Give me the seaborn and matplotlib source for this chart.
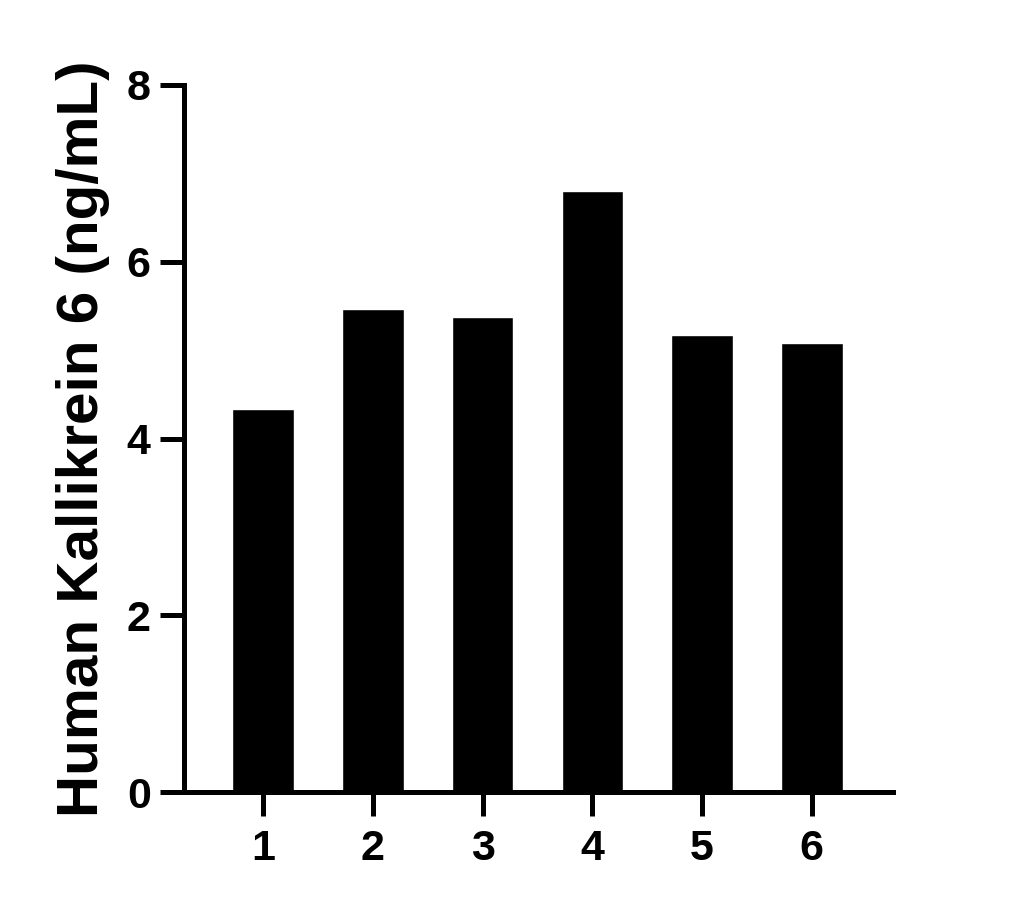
import matplotlib
matplotlib.use("Agg")
import matplotlib.pyplot as plt
import seaborn as sns
import pandas as pd

# values
samples = ["1", "2", "3", "4", "5", "6"]
kallikrein = [4.33, 5.46, 5.37, 6.80, 5.17, 5.08]

df = pd.DataFrame({"sample": samples, "value": kallikrein})

sns.set_style("ticks")
plt.rcParams['font.family'] = ['Liberation Sans', 'DejaVu Sans']
plt.rcParams['font.weight'] = 'bold'
plt.rcParams['text.color'] = 'black'
plt.rcParams['axes.labelcolor'] = 'black'
plt.rcParams['xtick.color'] = 'black'
plt.rcParams['ytick.color'] = 'black'

fig = plt.figure(figsize=(10.26, 9.09), dpi=100)
ax = fig.add_axes([184 / 1026, 1 - 792 / 909, (893 - 184) / 1026, (792 - 85) / 909])

sns.barplot(data=df, x="sample", y="value", color="black", width=0.56,
            saturation=1, ax=ax)

ax.set_ylim(0, 8)
ax.set_xlim(-0.72, 5.74)
ax.set_yticks([0, 2, 4, 6, 8])
ax.set_xlabel("")
ax.set_ylabel("Human Kallikrein 6 (ng/mL)", fontsize=42, fontweight='bold',
              color='black', labelpad=12)

for side in ["top", "right"]:
    ax.spines[side].set_visible(False)
for side in ["left", "bottom"]:
    ax.spines[side].set_linewidth(3.6)
    ax.spines[side].set_color("black")

ax.tick_params(axis="both", which="major", left=True, bottom=True, length=17,
               width=3.6, color="black", labelcolor="black", labelsize=31,
               direction="out")
ax.tick_params(axis="y", pad=7)
ax.tick_params(axis="x", pad=10)
for lbl in ax.get_xticklabels() + ax.get_yticklabels():
    lbl.set_fontweight("bold")

fig.savefig("out.png", dpi=100)
